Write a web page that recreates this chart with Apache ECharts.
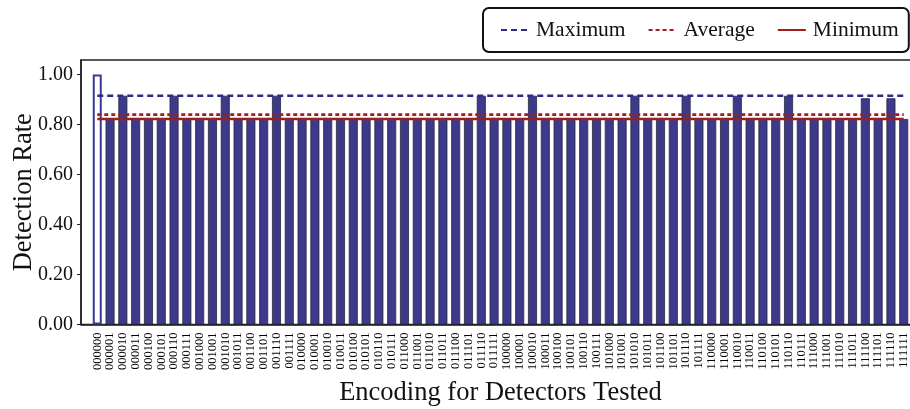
<!DOCTYPE html>
<html><head><meta charset="utf-8">
<script src="https://cdn.jsdelivr.net/npm/echarts@6/dist/echarts.min.js"></script>
<style>html,body{margin:0;padding:0;background:#fff}#c{width:910px;height:409px}</style>
</head><body><div id="c"></div>
<script>
const categories = [
  '000000','000001','000010','000011','000100','000101','000110','000111',
  '001000','001001','001010','001011','001100','001101','001110','001111',
  '010000','010001','010010','010011','010100','010101','010110','010111',
  '011000','011001','011010','011011','011100','011101','011110','011111',
  '100000','100001','100010','100011','100100','100101','100110','100111',
  '101000','101001','101010','101011','101100','101101','101110','101111',
  '110000','110001','110010','110011','110100','110101','110110','110111',
  '111000','111001','111010','111011','111100','111101','111110','111111'
];
const detectionRate = [
  1.000, 0.822, 0.915, 0.822, 0.822, 0.822, 0.915, 0.822,
  0.822, 0.822, 0.915, 0.822, 0.822, 0.822, 0.915, 0.822,
  0.822, 0.822, 0.822, 0.822, 0.822, 0.822, 0.822, 0.822,
  0.822, 0.822, 0.822, 0.822, 0.822, 0.822, 0.915, 0.822,
  0.822, 0.822, 0.915, 0.822, 0.822, 0.822, 0.822, 0.822,
  0.822, 0.822, 0.915, 0.822, 0.822, 0.822, 0.915, 0.822,
  0.822, 0.822, 0.915, 0.822, 0.822, 0.822, 0.915, 0.822,
  0.822, 0.822, 0.822, 0.822, 0.905, 0.822, 0.905, 0.822
];
const yTicks = [0, 0.2, 0.4, 0.6, 0.8, 1.0];
const legendNames = ['Maximum', 'Average', 'Minimum'];

const SERIF = '"Liberation Serif", "DejaVu Serif", serif';
const chart = echarts.init(document.getElementById('c'), null, {renderer: 'canvas'});
const idx = categories.map((_, i) => i);
const rest = detectionRate.slice(1);
const maxV = Math.max(...rest);
const minV = Math.min(...rest);
const avgV = rest.reduce((a, b) => a + b, 0) / rest.length;
const first = 0, last = categories.length - 1;

const option = {
  animation: false,
  backgroundColor: '#fff',
  grid: {left: 81, right: -10, top: 60, bottom: 84.5, show: true, borderColor: '#222', borderWidth: 1.5,
         containLabel: false, outerBoundsMode: 'none'},
  xAxis: {
    type: 'value', min: -1.27, max: 64.27,
    splitLine: {show: false},
    axisLine: {show: true, onZero: false, lineStyle: {color: '#222', width: 1.5}},
    axisTick: {show: false},
    axisLabel: {customValues: idx, rotate: 90, formatter: v => categories[v], fontFamily: SERIF, fontSize: 12.5,
                color: '#000', margin: 8, showMinLabel: true, showMaxLabel: true, hideOverlap: false},
    name: 'Encoding for Detectors Tested', nameLocation: 'middle', nameGap: 55, nameMoveOverlap: false,
    nameTextStyle: {fontFamily: SERIF, fontSize: 26.5, color: '#111'}
  },
  yAxis: {
    type: 'value', min: 0, max: 1.058,
    splitLine: {show: false},
    axisLine: {show: true, onZero: false, lineStyle: {color: '#222', width: 1.5}},
    axisTick: {show: true, customValues: yTicks, length: 4, inside: false, lineStyle: {color: '#222'}},
    axisLabel: {customValues: yTicks, formatter: v => v.toFixed(2), fontFamily: SERIF, fontSize: 20, color: '#111', margin: 8},
    name: 'Detection Rate', nameLocation: 'middle', nameGap: 43, nameRotate: 90, nameMoveOverlap: false,
    nameTextStyle: {fontFamily: SERIF, fontSize: 26.5, color: '#111'}
  },
  legend: {
    data: legendNames, left: 483, top: 8, orient: 'horizontal',
    padding: [11, 10, 11, 17], itemGap: 22, itemWidth: 28, itemHeight: 14,
    borderColor: '#111', borderWidth: 2, borderRadius: 6, backgroundColor: '#fff',
    itemStyle: {opacity: 0},
    textStyle: {fontFamily: SERIF, fontSize: 21.5, color: '#111', padding: [0, 0, 0, 2]}
  },
  series: [
    {
      type: 'bar', name: 'Detection Rate', barWidth: 9,
      data: detectionRate.map((v, i) => i === 0
        ? {value: [i, v], itemStyle: {color: '#fff', borderColor: '#3a3899', borderWidth: 2}}
        : [i, v]),
      itemStyle: {color: '#3d3a8c', borderColor: '#2a2a3a', borderWidth: 0.8}
    },
    {type: 'line', name: 'Maximum', data: [[first, maxV], [last, maxV]], symbol: 'none', z: 5,
     itemStyle: {color: '#2b2b8f'}, lineStyle: {color: '#2b2b8f', width: 2.6, type: [6, 4]}},
    {type: 'line', name: 'Average', data: [[first, avgV], [last, avgV]], symbol: 'none', z: 5,
     itemStyle: {color: '#9e1f1f'}, lineStyle: {color: '#9e1f1f', width: 2.6, type: [4, 3]}},
    {type: 'line', name: 'Minimum', data: [[first, minV], [last, minV]], symbol: 'none', z: 5,
     itemStyle: {color: '#9e1f1f'}, lineStyle: {color: '#9e1f1f', width: 2.6}}
  ]
};
chart.setOption(option);
</script>
</body></html>
